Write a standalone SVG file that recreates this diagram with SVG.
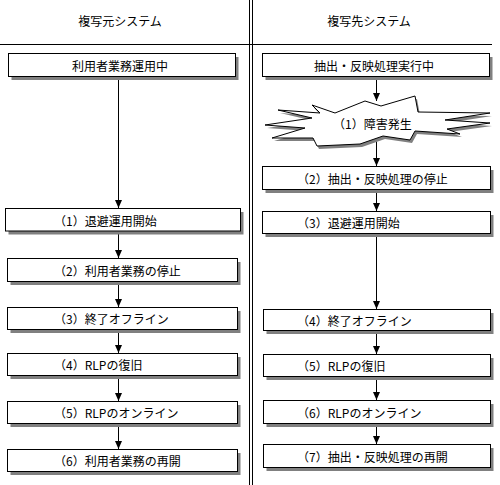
<svg xmlns="http://www.w3.org/2000/svg" width="500" height="485" viewBox="0 0 500 485">
<defs>
<style>
.bg{fill:#fff}
.box{fill:#fff;stroke:#000;stroke-width:1}
.sh{fill:#808080}
.ln{stroke:#000;stroke-width:1;fill:none}
.t{font-family:"Noto Sans CJK JP","Noto Sans",sans-serif;font-size:12px;fill:#000;dominant-baseline:central}
.c{text-anchor:middle}
</style>
<marker id="ah" viewBox="0 0 8 8" refX="8" refY="4" markerWidth="8" markerHeight="8" markerUnits="userSpaceOnUse" orient="auto">
<path d="M0,0.5 L8,4 L0,7.5 Z" fill="#000"/>
</marker>
</defs>
<rect class="bg" x="0" y="0" width="500" height="485"/>
<g id="frame">
<line class="ln" x1="249.5" y1="0" x2="249.5" y2="485"/>
<line class="ln" x1="252.5" y1="0" x2="252.5" y2="485"/>
<line class="ln" x1="0" y1="44.5" x2="492" y2="44.5"/>
<text class="t c" x="120" y="20">複写元システム</text>
<text class="t c" x="369" y="20">複写先システム</text>
</g>
<g id="connectors">
<line class="ln" x1="118.5" y1="77" x2="118.5" y2="208" marker-end="url(#ah)"/>
<line class="ln" x1="118.5" y1="231" x2="118.5" y2="258" marker-end="url(#ah)"/>
<line class="ln" x1="118.5" y1="282" x2="118.5" y2="307" marker-end="url(#ah)"/>
<line class="ln" x1="118.5" y1="330" x2="118.5" y2="353" marker-end="url(#ah)"/>
<line class="ln" x1="118.5" y1="376" x2="118.5" y2="401" marker-end="url(#ah)"/>
<line class="ln" x1="118.5" y1="424" x2="118.5" y2="449" marker-end="url(#ah)"/>
<line class="ln" x1="376.5" y1="77" x2="376.5" y2="101" marker-end="url(#ah)"/>
<line class="ln" x1="376.5" y1="137" x2="376.5" y2="166" marker-end="url(#ah)"/>
<line class="ln" x1="376.5" y1="190" x2="376.5" y2="211" marker-end="url(#ah)"/>
<line class="ln" x1="376.5" y1="234" x2="376.5" y2="309" marker-end="url(#ah)"/>
<line class="ln" x1="376.5" y1="331" x2="376.5" y2="354" marker-end="url(#ah)"/>
<line class="ln" x1="376.5" y1="377" x2="376.5" y2="400" marker-end="url(#ah)"/>
<line class="ln" x1="376.5" y1="424" x2="376.5" y2="444" marker-end="url(#ah)"/>
</g>
<g id="L0">
<rect class="sh" x="11.5" y="57" width="227" height="23"/>
<rect class="box" x="8.5" y="53.5" width="227" height="23"/>
<text class="t c" x="120" y="65">利用者業務運用中</text>
</g>
<g id="L1">
<rect class="sh" x="8.5" y="212" width="235" height="22.5"/>
<rect class="box" x="5.5" y="208.5" width="235" height="22.5"/>
<text class="t" x="54" y="220">（1）退避運用開始</text>
</g>
<g id="L2">
<rect class="sh" x="10.5" y="262" width="230" height="23"/>
<rect class="box" x="7.5" y="258.5" width="230" height="23"/>
<text class="t" x="54" y="270">（2）利用者業務の停止</text>
</g>
<g id="L3">
<rect class="sh" x="10.5" y="311" width="230" height="22"/>
<rect class="box" x="7.5" y="307.5" width="230" height="22"/>
<text class="t" x="54" y="318.5">（3）終了オフライン</text>
</g>
<g id="L4">
<rect class="sh" x="10.5" y="357" width="230" height="22"/>
<rect class="box" x="7.5" y="353.5" width="230" height="22"/>
<text class="t" x="54" y="364.5">（4）RLPの復旧</text>
</g>
<g id="L5">
<rect class="sh" x="10.5" y="405" width="230" height="22"/>
<rect class="box" x="7.5" y="401.5" width="230" height="22"/>
<text class="t" x="54" y="412.5">（5）RLPのオンライン</text>
</g>
<g id="L6">
<rect class="sh" x="10.5" y="453" width="230" height="22"/>
<rect class="box" x="7.5" y="449.5" width="230" height="22"/>
<text class="t" x="54" y="460.5">（6）利用者業務の再開</text>
</g>
<g id="R0">
<rect class="sh" x="265.5" y="57" width="227" height="23"/>
<rect class="box" x="262.5" y="53.5" width="227" height="23"/>
<text class="t c" x="374" y="65">抽出・反映処理実行中</text>
</g>
<g id="R1">
<polygon class="sh" transform="translate(2,3)" points="312,105 335,113 365,101 381,106 415,96 418,112 490,113 445,120 490,123 447,129 460,134 415,131 410,140 383,136 360,144 317,146 313,138 272,138 305,128 265,125 312,118 278,110 320,113"/>
<polygon class="box" points="312,105 335,113 365,101 381,106 415,96 418,112 490,113 445,120 490,123 447,129 460,134 415,131 410,140 383,136 360,144 317,146 313,138 272,138 305,128 265,125 312,118 278,110 320,113"/>
<text class="t" x="333" y="123">（1）障害発生</text>
</g>
<g id="R2">
<rect class="sh" x="265.5" y="170" width="228" height="23"/>
<rect class="box" x="262.5" y="166.5" width="228" height="23"/>
<text class="t" x="297" y="178">（2）抽出・反映処理の停止</text>
</g>
<g id="R3">
<rect class="sh" x="265.5" y="215" width="228" height="22"/>
<rect class="box" x="262.5" y="211.5" width="228" height="22"/>
<text class="t" x="297" y="222.5">（3）退避運用開始</text>
</g>
<g id="R4">
<rect class="sh" x="266.5" y="313" width="227" height="21"/>
<rect class="box" x="263.5" y="309.5" width="227" height="21"/>
<text class="t" x="297" y="320">（4）終了オフライン</text>
</g>
<g id="R5">
<rect class="sh" x="266.5" y="358" width="227" height="22"/>
<rect class="box" x="263.5" y="354.5" width="227" height="22"/>
<text class="t" x="297" y="365.5">（5）RLPの復旧</text>
</g>
<g id="R6">
<rect class="sh" x="266.5" y="404" width="227" height="23"/>
<rect class="box" x="263.5" y="400.5" width="227" height="23"/>
<text class="t" x="297" y="412">（6）RLPのオンライン</text>
</g>
<g id="R7">
<rect class="sh" x="266.5" y="448" width="227" height="23"/>
<rect class="box" x="263.5" y="444.5" width="227" height="23"/>
<text class="t" x="297" y="456">（7）抽出・反映処理の再開</text>
</g>
</svg>
